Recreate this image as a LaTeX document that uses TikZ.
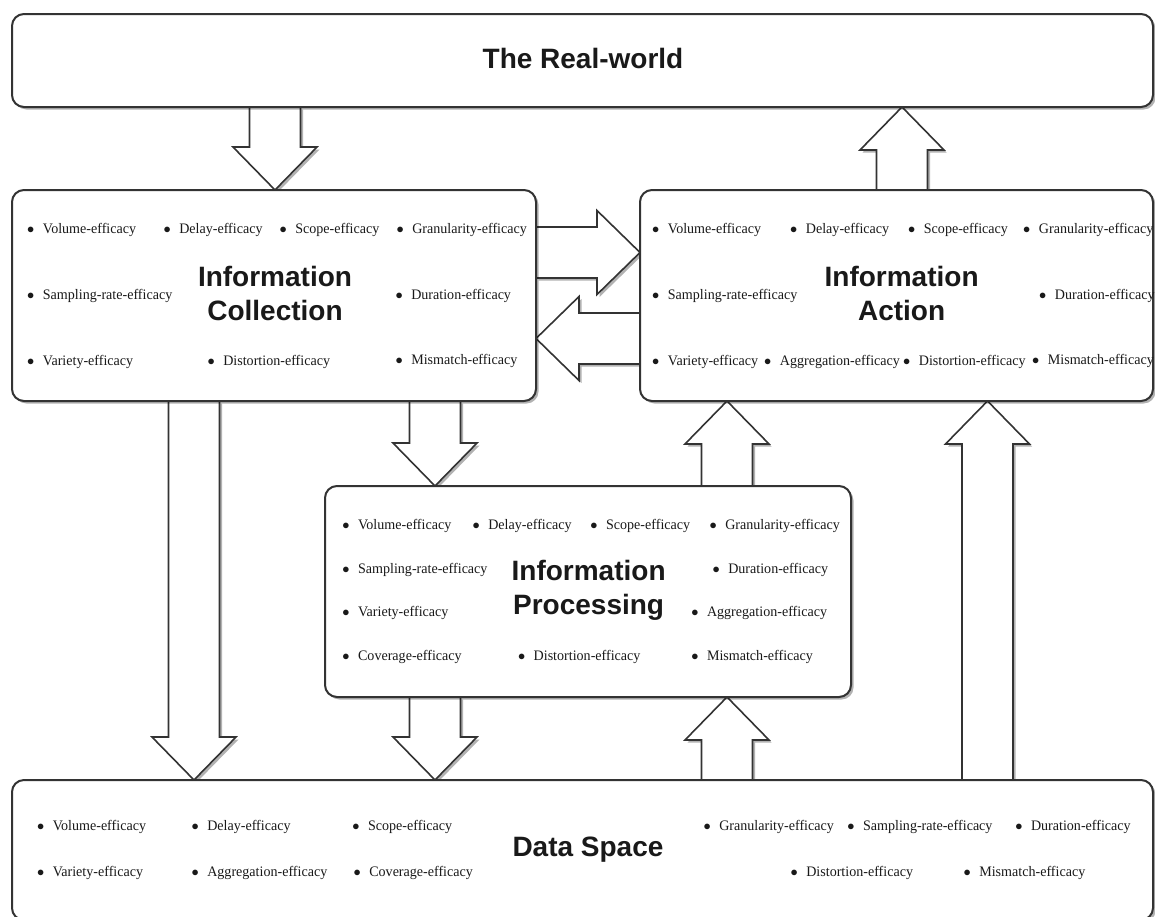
\documentclass[tikz,border=0pt]{standalone}
\usepackage{fontspec}
\setmainfont{Liberation Serif}
\setsansfont{Liberation Sans}
\newfontfamily\itemfont[FakeStretch=0.97]{Liberation Serif}
\usetikzlibrary{calc,shadows,backgrounds}
\definecolor{edge}{HTML}{333333}
\newcommand\arrowdn[3]{% x, source, target
  \draw[blockarrow] let \p1=(#2.south), \p2=(#3.north) in
    (#1pt-25.5pt,\y1) -- (#1pt-25.5pt,\y2+43pt) -- (#1pt-42pt,\y2+43pt) -- (#1pt,\y2)
    -- (#1pt+42pt,\y2+43pt) -- (#1pt+25.5pt,\y2+43pt) -- (#1pt+25.5pt,\y1) -- cycle;}
\newcommand\arrowup[3]{% x, source, target
  \draw[blockarrow] let \p1=(#2.north), \p2=(#3.south) in
    (#1pt-25.5pt,\y1) -- (#1pt-25.5pt,\y2-43pt) -- (#1pt-42pt,\y2-43pt) -- (#1pt,\y2)
    -- (#1pt+42pt,\y2-43pt) -- (#1pt+25.5pt,\y2-43pt) -- (#1pt+25.5pt,\y1) -- cycle;}
\newcommand\arrowrt[3]{% y, source, target
  \draw[blockarrow] let \p1=(#2.east), \p2=(#3.west) in
    (\x1,-#1pt+25.5pt) -- (\x2-43pt,-#1pt+25.5pt) -- (\x2-43pt,-#1pt+42pt) -- (\x2,-#1pt)
    -- (\x2-43pt,-#1pt-42pt) -- (\x2-43pt,-#1pt-25.5pt) -- (\x1,-#1pt-25.5pt) -- cycle;}
\newcommand\arrowlt[3]{% y, source, target
  \draw[blockarrow] let \p1=(#2.west), \p2=(#3.east) in
    (\x1,-#1pt+25.5pt) -- (\x2+43pt,-#1pt+25.5pt) -- (\x2+43pt,-#1pt+42pt) -- (\x2,-#1pt)
    -- (\x2+43pt,-#1pt-42pt) -- (\x2+43pt,-#1pt-25.5pt) -- (\x1,-#1pt-25.5pt) -- cycle;}
\newcommand\itm[1]{$\bullet$\hspace{8.5pt}#1}
\begin{document}
\begin{tikzpicture}[x=1pt,y=-1pt,
  box/.style={draw=edge, line width=2pt, fill=white, rounded corners=12pt,
    inner sep=0pt, outer sep=0pt,
    drop shadow={shadow xshift=2.5pt, shadow yshift=-2.5pt, opacity=0.3, fill=black}},
  blockarrow/.style={draw=edge, line width=1.6pt, fill=white, line join=miter,
    drop shadow={shadow xshift=2.5pt, shadow yshift=-2.5pt, opacity=0.3, fill=black}},
  item/.style={anchor=west, inner sep=0pt, text=black!90,
    font=\itemfont\fontsize{14.5}{17}\selectfont},
  ttl/.style={inner sep=0pt, align=center, text=black!90,
    font=\sffamily\bfseries\fontsize{28}{34}\selectfont}]
\useasboundingbox (0,0) rectangle (1155,916);

% boxes
\node[box, minimum width=1141pt, minimum height=93pt] (rw) at (582.5,60.5) {};
\node[box, minimum width=524pt, minimum height=211pt] (ic) at (274,295.5) {};
\node[box, minimum width=513pt, minimum height=211pt] (ia) at (896.5,295.5) {};
\node[box, minimum width=526pt, minimum height=211pt] (ip) at (588,591.5) {};
\node[box, minimum width=1141pt, minimum height=140pt] (ds) at (582.5,850) {};

% arrows
\begin{pgfonlayer}{background}
\arrowdn{275}{rw}{ic}
\arrowup{902}{ia}{rw}
\arrowrt{252.5}{ic}{ia}
\arrowlt{338.5}{ia}{ic}
\arrowdn{194}{ic}{ds}
\arrowdn{435}{ic}{ip}
\arrowup{727}{ip}{ia}
\arrowdn{435}{ip}{ds}
\arrowup{727}{ds}{ip}
\arrowup{987.5}{ds}{ia}
\end{pgfonlayer}

% titles
\node[ttl] (rwt) at (583,58) {The Real-world};
\node[ttl] (ict) at (275,293) {Information\\Collection};
\node[ttl] (iat) at (901.6,293) {Information\\Action};
\node[ttl] (ipt) at (588.6,590) {Information\\Processing};
\node[ttl] (dst) at (588,850) {Data Space};

% Information Collection items
\node[item] (ic1) at (27,230) {\itm{Volume-efficacy}};
\node[item] (ic2) at (163.4,230) {\itm{Delay-efficacy}};
\node[item] (ic3) at (279.4,230) {\itm{Scope-efficacy}};
\node[item] (ic4) at (396.4,230) {\itm{Granularity-efficacy}};
\node[item] (ic5) at (27,296) {\itm{Sampling-rate-efficacy}};
\node[item] (ic6) at (395.4,296) {\itm{Duration-efficacy}};
\node[item] (ic7) at (27,362) {\itm{Variety-efficacy}};
\node[item] (ic8) at (207.4,362) {\itm{Distortion-efficacy}};
\node[item] (ic9) at (395.4,361) {\itm{Mismatch-efficacy}};

% Information Action items
\node[item] (ia1) at (652,230) {\itm{Volume-efficacy}};
\node[item] (ia2) at (790,230) {\itm{Delay-efficacy}};
\node[item] (ia3) at (908,230) {\itm{Scope-efficacy}};
\node[item] (ia4) at (1023,230) {\itm{Granularity-efficacy}};
\node[item] (ia5) at (652,296) {\itm{Sampling-rate-efficacy}};
\node[item] (ia6) at (1039,296) {\itm{Duration-efficacy}};
\node[item] (ia7) at (652,361.7) {\itm{Variety-efficacy}};
\node[item] (ia8) at (764,361.7) {\itm{Aggregation-efficacy}};
\node[item] (ia9) at (903,361.7) {\itm{Distortion-efficacy}};
\node[item] (ia10) at (1032,360.7) {\itm{Mismatch-efficacy}};

% Information Processing items
\node[item] (ip1) at (342.2,526) {\itm{Volume-efficacy}};
\node[item] (ip2) at (472.4,526) {\itm{Delay-efficacy}};
\node[item] (ip3) at (590.2,526) {\itm{Scope-efficacy}};
\node[item] (ip4) at (709.4,526) {\itm{Granularity-efficacy}};
\node[item] (ip5) at (342.2,570) {\itm{Sampling-rate-efficacy}};
\node[item] (ip6) at (712.4,570) {\itm{Duration-efficacy}};
\node[item] (ip7) at (342.2,613) {\itm{Variety-efficacy}};
\node[item] (ip8) at (691.1,613) {\itm{Aggregation-efficacy}};
\node[item] (ip9) at (342.2,656.7) {\itm{Coverage-efficacy}};
\node[item] (ip10) at (517.8,656.7) {\itm{Distortion-efficacy}};
\node[item] (ip11) at (691.1,656.7) {\itm{Mismatch-efficacy}};

% Data Space items
\node[item] (ds1) at (36.9,826.7) {\itm{Volume-efficacy}};
\node[item] (ds2) at (191.4,826.7) {\itm{Delay-efficacy}};
\node[item] (ds3) at (352.2,826.7) {\itm{Scope-efficacy}};
\node[item] (ds4) at (703.4,826.7) {\itm{Granularity-efficacy}};
\node[item] (ds5) at (847.2,826.7) {\itm{Sampling-rate-efficacy}};
\node[item] (ds6) at (1015.1,826.7) {\itm{Duration-efficacy}};
\node[item] (ds7) at (36.9,873.3) {\itm{Variety-efficacy}};
\node[item] (ds8) at (191.4,873.3) {\itm{Aggregation-efficacy}};
\node[item] (ds9) at (353.4,873.3) {\itm{Coverage-efficacy}};
\node[item] (ds10) at (790.4,873.3) {\itm{Distortion-efficacy}};
\node[item] (ds11) at (963.4,873.3) {\itm{Mismatch-efficacy}};
\end{tikzpicture}
\end{document}
